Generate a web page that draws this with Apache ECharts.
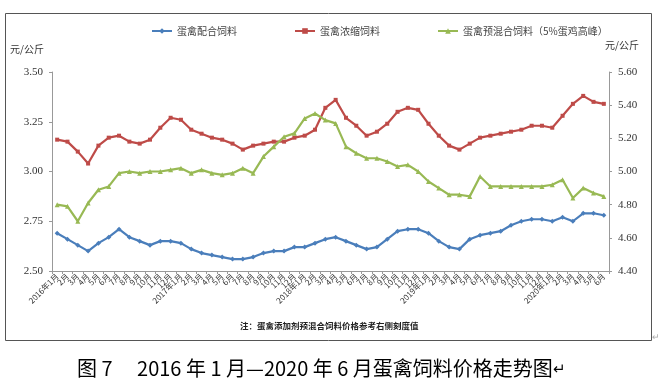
<!DOCTYPE html>
<html><head><meta charset="utf-8">
<script src="https://cdn.jsdelivr.net/npm/echarts@6/dist/echarts.min.js"></script>
<style>html,body{margin:0;padding:0;background:#fff}#c{width:660px;height:390px}</style>
</head><body><div id="c"></div>
<script>
var seriesNames = ['蛋禽配合饲料', '蛋禽浓缩饲料', '蛋禽预混合饲料（5%蛋鸡高峰）'];
var months = [];
for (var i = 0; i < 54; i++) {
  var m = i % 12 + 1, y = 2016 + Math.floor(i / 12);
  months.push(m === 1 ? y + '年' + m + '月' : m + '月');
}
var compound = [2.69,2.66,2.63,2.60,2.64,2.67,2.71,2.67,2.65,2.63,2.65,2.65,2.64,2.61,
  2.59,2.58,2.57,2.56,2.56,2.57,2.59,2.60,2.60,2.62,2.62,2.64,2.66,2.67,
  2.65,2.63,2.61,2.62,2.66,2.70,2.71,2.71,2.69,2.65,2.62,2.61,2.66,2.68,
  2.69,2.70,2.73,2.75,2.76,2.76,2.75,2.77,2.75,2.79,2.79,2.78];
var concentrate = [3.16,3.15,3.10,3.04,3.13,3.17,3.18,3.15,3.14,3.16,3.22,3.27,3.26,3.21,
  3.19,3.17,3.16,3.14,3.11,3.13,3.14,3.15,3.15,3.17,3.18,3.21,3.32,3.36,
  3.27,3.23,3.18,3.20,3.24,3.30,3.32,3.31,3.24,3.18,3.13,3.11,3.14,3.17,
  3.18,3.19,3.20,3.21,3.23,3.23,3.22,3.28,3.34,3.38,3.35,3.34];
var premix = [4.80,4.79,4.70,4.81,4.89,4.91,4.99,5.00,4.99,5.00,5.00,5.01,5.02,4.99,
  5.01,4.99,4.98,4.99,5.02,4.99,5.09,5.15,5.21,5.23,5.32,5.35,5.31,5.29,
  5.15,5.11,5.08,5.08,5.06,5.03,5.04,5.00,4.94,4.90,4.86,4.86,4.85,4.97,
  4.91,4.91,4.91,4.91,4.91,4.91,4.92,4.95,4.84,4.90,4.87,4.85];
var leftTicks = {min: 2.5, max: 3.5, interval: 0.25};
var rightTicks = {min: 4.4, max: 5.6, interval: 0.2};
var colors = ['#4a7ebb', '#be4b48', '#98b954'];
var numFont = 'Liberation Serif';
var cjk = '"Noto Sans CJK SC"';

var chart = echarts.init(document.getElementById('c'), null, {renderer: 'canvas'});
function yAxis(t, pos) {
  return {
    type: 'value', position: pos, min: t.min, max: t.max, interval: t.interval,
    splitLine: {show: false},
    axisLine: {show: true, lineStyle: {color: '#999'}},
    axisTick: {show: true, length: 3, lineStyle: {color: '#999'}},
    axisLabel: {color: '#333', fontSize: 11, fontFamily: numFont, margin: 9,
      formatter: function (v) { return v.toFixed(2); }}
  };
}
function line(idx, data, symbol, size, yi) {
  return {
    name: seriesNames[idx], type: 'line', data: data, yAxisIndex: yi,
    symbol: symbol, symbolSize: size,
    lineStyle: {width: 2.2, color: colors[idx]},
    itemStyle: {color: colors[idx]},
    animation: false
  };
}
chart.setOption({
  animation: false,
  color: colors,
  legend: {
    top: 21, left: 146, itemGap: 57, itemWidth: 20, itemHeight: 7,
    textStyle: {fontSize: 10, fontFamily: cjk, color: '#444'},
    data: seriesNames
  },
  grid: {left: 52, right: 51, top: 72, bottom: 119},
  xAxis: {
    type: 'category', data: months, boundaryGap: true,
    axisLine: {lineStyle: {color: '#999'}},
    axisTick: {show: true, interval: 0, length: 3, lineStyle: {color: '#999'}},
    axisLabel: {interval: 0, rotate: 45, fontSize: 8, color: '#333', fontFamily: cjk, margin: 4}
  },
  yAxis: [yAxis(leftTicks, 'left'), yAxis(rightTicks, 'right')],
  series: [
    line(0, compound, 'diamond', 5, 0),
    line(1, concentrate, 'rect', 4, 0),
    line(2, premix, 'triangle', 5, 1)
  ],
  graphic: [
    {type: 'rect', shape: {x: 5.5, y: 13.5, width: 646, height: 327},
     style: {fill: null, stroke: '#555', lineWidth: 1}, silent: true},
    {type: 'text', left: 10, top: 44, style: {text: '元/公斤', fontSize: 10, fontFamily: cjk, fill: '#333'}},
    {type: 'text', left: 605, top: 40, style: {text: '元/公斤', fontSize: 10, fontFamily: cjk, fill: '#333'}},
    {type: 'text', left: 240, top: 322, style: {text: '注：蛋禽添加剂预混合饲料价格参考右侧刻度值', fontSize: 8.5, fontWeight: 'bold', fontFamily: cjk, fill: '#222'}},
    {type: 'text', left: 77, top: 358, style: {
      text: '{a|图 7　 2016 年 1 月—2020 年 6 月蛋禽饲料价格走势图}{b|↵}',
      rich: {a: {fontSize: 20, fontFamily: cjk, color: '#111'},
             b: {fontSize: 15, fontFamily: cjk, color: '#aaa'}}}},
    {type: 'text', left: 652, top: 333, style: {text: '↵', fontSize: 9, fill: '#aaa'}}
  ]
});
</script></body></html>
